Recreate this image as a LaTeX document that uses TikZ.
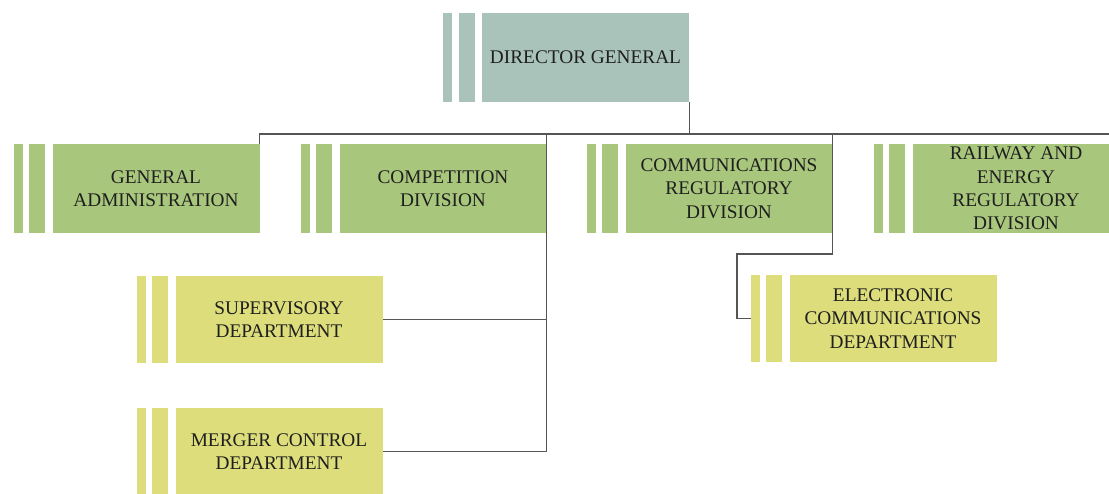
\documentclass[tikz,border=0pt]{standalone}
\usepackage{fontspec}
\setmainfont{Liberation Serif}
\usetikzlibrary{positioning}
\definecolor{dgfill}{HTML}{A9C3BA}
\definecolor{divfill}{HTML}{A8C67C}
\definecolor{depfill}{HTML}{DDDE7B}
\definecolor{linkgray}{HTML}{555555}

\begin{document}
\begin{tikzpicture}[x=1pt, y=-1pt,
  unit/.style={minimum width=207pt, minimum height=#1, inner sep=0pt, align=center,
               font=\fontsize{19.3}{23.3}\selectfont, text=black!88},
  unit/.default=89pt,
  bar/.style={minimum width=16pt, inner sep=0pt, fill=#1},
  link/.style={draw=linkgray, line width=1.4pt}]
\useasboundingbox (0,0) rectangle (1109,493);
% main boxes
\node[unit, fill=dgfill] (dg) at (585.5,57.5) {DIRECTOR GENERAL};
\node[unit, fill=divfill] (admin) at (156,188.5) {GENERAL\\ADMINISTRATION};
\node[unit, fill=divfill] (comp) at (443,188.5) {COMPETITION\\DIVISION};
\node[unit, fill=divfill] (comms) at (729,188.5) {COMMUNICATIONS\\REGULATORY\\DIVISION};
\node[unit, fill=divfill] (rail) at (1016,188.5) {RAILWAY AND\\ENERGY\\REGULATORY\\DIVISION};
\node[unit=87pt, fill=depfill] (superv) at (279,319.5) {SUPERVISORY\\DEPARTMENT};
\node[unit=87pt, fill=depfill] (merger) at (279,451.5) {MERGER CONTROL\\DEPARTMENT};
\node[unit=87pt, fill=depfill] (elec) at (893,318.5) {ELECTRONIC\\COMMUNICATIONS\\DEPARTMENT};
% side bars
\foreach \n/\c/\h in {dg/dgfill/89, admin/divfill/89, comp/divfill/89, comms/divfill/89,
                      rail/divfill/89, superv/depfill/87, merger/depfill/87, elec/depfill/87} {
  \node[bar=\c, minimum height=\h pt, left=7pt of \n] (\n2) {};
  \node[bar=\c, minimum height=\h pt, minimum width=9pt, left=6pt of \n2] (\n1) {};
}
\coordinate (bus) at (0,134);
\coordinate (elbow) at (737,254);
% connectors
\draw[link] (dg.south east) -- (dg.south east |- bus);
\draw[link] (admin.north east) -- (admin.north east |- bus) -- (rail.north east |- bus) -- (rail.north east);
\draw[link] (comp.north east |- bus) -- (comp.north east |- merger.east) -- (merger.east);
\draw[link] (superv.east) -- (superv.east -| comp.east);
\draw[link] (comms.north east |- bus) -- (comms.south east) |- (elbow) |- (elec1.west);
\end{tikzpicture}
\end{document}
